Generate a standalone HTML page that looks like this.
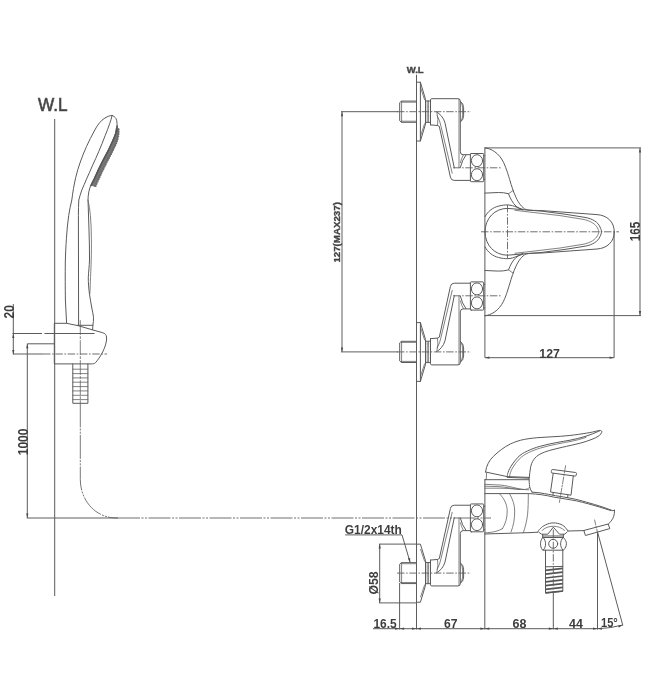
<!DOCTYPE html>
<html lang="en">
<head>
<meta charset="utf-8">
<title>Bath faucet dimension drawing</title>
<style>
html,body{margin:0;padding:0;background:#fff;}
body{width:645px;height:700px;overflow:hidden;}
svg{display:block;will-change:transform;transform:translateZ(0);}
text{font-family:"Liberation Sans",Arial,sans-serif;fill:#3e3e3e;font-weight:bold;}
.ln{fill:none;stroke:#5a5a5a;stroke-width:1;stroke-linecap:round;stroke-linejoin:round;}
.th{fill:none;stroke:#626262;stroke-width:0.8;stroke-linecap:round;stroke-linejoin:round;}
.dm{fill:none;stroke:#5c5c5c;stroke-width:1;}
.cl{fill:none;stroke:#606060;stroke-width:0.9;stroke-dasharray:7.5 1.6 1.6 1.6;}
.ar{fill:#4a4a4a;stroke:none;}
</style>
</head>
<body>
<svg width="645" height="700" viewBox="0 0 645 700">
<rect x="0" y="0" width="645" height="700" fill="#ffffff"/>
<defs>
<filter id="soft" x="0" y="0" width="645" height="700" filterUnits="userSpaceOnUse"><feGaussianBlur stdDeviation="0.42"/></filter>
<!-- eccentric wall connector; y=0 is the wall nipple axis, nut axis at y=+56 -->
<g id="conn">
  <!-- threaded nipple -->
  <path class="ln" d="M416.5,-10.6 L401.4,-10.6 L399.7,-9 L399.7,9 L401.4,10.6 L416.5,10.6"/>
  <path class="th" d="M401.4,-9.5 L416.5,-9.5 M401.4,9.5 L416.5,9.5"/>
  <line class="th" x1="401.6" y1="-10.4" x2="401.6" y2="10.4"/>
  <!-- flange -->
  <path class="ln" d="M416.5,-29.5 L420.4,-29.5 L425.5,-12.4 L425.5,12.4 L420.4,29.3 L416.5,29.3"/>
  <path class="th" d="M420.6,-24 L424.6,-12 M420.6,24 L424.6,12"/>
  <!-- neck -->
  <path class="ln" d="M425.6,-10.7 L430.5,-10.7 M425.6,10.7 L430.5,10.7"/>
  <line class="th" x1="427.2" y1="-10.7" x2="427.2" y2="10.7" stroke-dasharray="1.2 0.6"/>
  <line class="th" x1="428.6" y1="-10.7" x2="428.6" y2="10.7" stroke-dasharray="1.2 0.6"/>
  <!-- arm box -->
  <path class="ln" d="M430.5,13.2 L430.5,-11.8 Q430.5,-13 431.8,-13 L458,-13 Q460.3,-13 460.3,-10.5 L460.3,40 Q460.3,43 463.2,43 L470.4,43"/>
  <line class="th" x1="459" y1="-12.6" x2="459" y2="56"/>
  <path class="ln" d="M460.3,-10.4 Q463.6,-8.6 463.6,-4 L463.6,4 Q463.6,8.6 460.3,10.4"/>
  <path class="th" d="M461.4,-9 Q462.6,-6 462.6,-3 L462.6,3 Q462.6,6 461.4,9"/>
  <!-- slanting arm -->
  <path class="ln" d="M430.5,13.2 L437.5,13.8 L439.3,14.7 L450.4,65.4 Q451,68.7 454.2,68.7 L470.4,68.7"/>
  <path class="th" d="M437.2,4 Q440,9 441,14.7 L452.2,61.5"/>
  <path class="ln" d="M436.4,0.2 C440,2 443.6,6 445,11.2 L454.3,56.2"/>
  <path class="th" d="M437,1.4 Q438.6,8 437.5,13.8"/>
  <path class="ln" d="M466,43.2 Q462,48.5 460.3,55.8"/>
  <path class="th" d="M463.4,43.2 Q461.2,47 460.4,51"/>
  <!-- nut -->
  <rect class="ln" x="470.4" y="41.8" width="13.3" height="28.2" rx="0.8"/>
  <ellipse class="ln" cx="477" cy="49" rx="5.6" ry="6"/>
  <ellipse class="ln" cx="477" cy="63" rx="5.6" ry="6"/>
  <line class="th" x1="483.6" y1="44" x2="484.9" y2="44"/>
  <line class="th" x1="483.6" y1="67.5" x2="484.9" y2="67.5"/>
  <!-- centre lines -->
  <line class="cl" x1="397" y1="0" x2="471" y2="0"/>
</g>
<!-- upper half of plan view (mirrored about y=231.8) -->
<g id="half">
  <path class="ln" d="M484.9,147.9 C491,148.3 499,153 503.5,162.3 C507,170 508.5,176 509.7,179.7 C511.5,186 513.5,192 516,197.4 C518.5,203 522,207.6 526,209.6 C530,210.6 536,210.3 542,210.6 L597,214.6 C607,215.3 614.3,221.5 614.3,231.8"/>
  <path class="ln" d="M484.9,193.1 L498.6,192.5 Q504,192.5 508.5,193.7 C510,198 513,203.5 516,206.1 Q519,208.8 522.5,210"/>
  <path class="th" d="M508.5,193.7 L513.3,190.4"/>
  <path class="ln" d="M485,216.7 C488,211 493,207.5 498.6,206.1 C502,205.2 505,204.9 507.5,204.9 C511,205 514,206 517.2,207.4 L523.4,209.6"/>
  <path class="ln" d="M485,231.8 C485,218 495,208.4 507.5,208.4 L523.4,209.7 L542,211.2 L565,214.2 L585,217.4 C593,218.9 598,222.2 600,227 C601,229 601.5,230.5 601.5,231.8"/>
  <path class="th" d="M515,210.3 L560,215.6 L583,219.3 C591,220.9 595.5,224.2 597.5,228 C598.5,230 598.9,231 598.9,231.8"/>
  <line class="ln" x1="484.9" y1="147.9" x2="484.9" y2="231.8"/>
</g>
</defs>

<g filter="url(#soft)">
<!-- ================= LEFT : hand shower ================= -->
<g id="left-view">
<text x="38" y="111" font-size="17.8" textLength="29.6" lengthAdjust="spacingAndGlyphs" style="font-weight:normal" stroke="#555" stroke-width="0.7" fill="#555">W.L</text>
<line class="dm" x1="54.7" y1="119" x2="54.7" y2="596"/>
<!-- hand shower -->
<path class="ln" d="M112.1,115.5 C110.8,115.5 109.5,115.8 108.2,116.3 C106,117.2 104,118.5 102,120.2 C99,123 96.5,126.8 94.3,131 C91.5,136 89,141 86.5,146.5 C84.3,151.5 82.2,156.5 80.3,162 C78.5,167 77,172 75.7,177.5 C74,185 72.8,192 71.8,200 C70.6,205 69.5,210 68.7,215.5 C67.6,223 66.9,231 66.4,238.8 C65.9,246 65.5,254 65.3,262 C65.2,275 65.2,288 65.4,300 L66.6,323.2"/>
<path class="ln" d="M112.1,115.5 C111.5,118 110.8,120.5 109.8,123.3 C108.4,127.5 106.8,131.5 105.1,135.7 C103.2,141 101,146 98.9,151.2 C96.9,156 94.8,160.5 92.7,165.1 C90.6,170 88.5,174.5 86.5,179.1 C84.9,183 83.3,186.5 81.9,189.9 C80.6,193.5 79.6,196.8 78.8,200 C78.5,205 78.4,210 78.4,215.5 L78.6,325.4"/>
<path class="ln" d="M112.1,115.5 C113.8,116 115,117 116,118.6 C116.7,120 117,121.5 117,123.3 L117,125.5 C116.8,129 116.2,132 115,135 C114,137.5 113.3,139 112.5,141 L107.8,151 L103.5,159 L98.5,169 L94,179 C92.6,181.5 91.4,184 90.5,186 C89.8,188 89.2,190 88.8,192 C88.3,195 88,197.5 88,200 C88.2,210 88.8,220 89,230 C89.3,240 89.6,250 89.5,260 C89.3,266 88.6,272 88.3,277.2 C88.2,283 88.8,289 89.5,294.3 C90.2,299 91,303.5 91.8,308 C92.5,311.5 93.2,314.5 93.5,317.2 C93.6,320 93.3,322.8 92.9,325.2 L92.6,329.8"/>
<path class="th" d="M88,200 C89.2,205 90,210 90.4,215.5 C91,223 91.4,231 91.4,238.8 C91.5,246 91.4,254 91.2,260 C91,268 90.6,276 90.3,282.9 C90.2,287 90.1,291 89.8,294.3"/>
<path d="M117.2,128.4 C117.2,131 117,133.4 116.2,136.3 C115.5,138.6 115,140.1 114.3,142.1 L109.6,152.1 L105.3,160.1 L100.3,170.1 L95.8,180.1 C94.8,182.1 93.8,184.3 93.1,186.3" fill="none" stroke="#777" stroke-width="3.4"/>
<path d="M118.4,129.4 C118.5,132 118.4,134.4 117.8,137.2 C117.2,139.5 116.8,141 116.1,143 L111.4,153 L107.1,161 L102.1,171 L97.6,181 C96.6,183 95.6,185.2 94.9,187.2" fill="none" stroke="#6c6c6c" stroke-width="2.5" stroke-linecap="round" stroke-dasharray="0.01 2.35"/>
<path d="M117.3,125.5 C117.1,129 116.5,132 115.3,135 C114.3,137.5 113.6,139 112.8,141 L108.1,151 L103.8,159 L98.8,169 L94.3,179 C93,181.5 91.8,184 90.9,186" fill="none" stroke="#555" stroke-width="1.6"/>
<path class="ln" d="M77.5,325.3 L92.9,325.3" stroke-width="1.4"/>
<!-- holder -->
<path class="ln" d="M54.7,323.3 L66.6,323.3 L78.6,325.8 L92.3,329.8 L102.6,332.7 C105,333.4 106.4,334.8 106.5,337 C106.6,338.5 106.6,339.5 106.4,341 C106,343.8 105.2,346.2 104.2,348.6 C103.2,351 102.2,353 100.9,355.1 C99.5,357.6 97.8,360 95.5,362.7 C94.6,363.6 93.4,363.9 91.2,363.9 L54.7,363.9 Z"/>
<!-- hose nut -->
<path class="ln" d="M72.8,363.9 L72.8,403.3 L87.9,403.3 L87.9,363.9"/>
<path class="th" d="M72.8,369.2 H87.9 M72.8,373.6 H87.9 M72.8,377.9 H87.9 M72.8,382.2 H87.9 M72.8,386.6 H87.9 M72.8,390.9 H87.9 M72.8,395.3 H87.9 M72.8,399.6 H87.9" stroke-width="0.9"/>
<line class="th" x1="80.3" y1="320.6" x2="80.3" y2="403" stroke-dasharray="14 2 2 2"/>
<path d="M80.3,403.3 L80.3,479.4 C80.3,497 91,512 106,516.4 C110,517.6 113,518 118,518" fill="none" stroke="#5e5e5e" stroke-width="0.85" stroke-dasharray="24 1.2 2 1.2 2 1.2"/>
<!-- dims -->
<line class="dm" x1="12.5" y1="333.5" x2="94.6" y2="333.5" stroke-dasharray="29.5 2.5 60"/>
<line class="cl" x1="43" y1="354" x2="107" y2="354"/>
<line class="dm" x1="13" y1="354" x2="43" y2="354"/>
<line class="dm" x1="13.3" y1="304" x2="13.3" y2="354.4"/>
<line class="dm" x1="27.3" y1="343.8" x2="54.7" y2="343.8"/>
<line class="dm" x1="27.3" y1="343.8" x2="27.3" y2="518"/>
<line class="dm" x1="26.8" y1="518" x2="118" y2="518"/>
<path class="ar" d="M27.3,518 l-1.1,-4.5 h2.2z M27.3,343.8 l-1.1,4.5 h2.2z M13.3,333.4 l-1.1,4.5 h2.2z M13.3,354.4 l-1.1,-4.5 h2.2z"/>
<text transform="translate(14.3,318.5) rotate(-90)" font-size="14" textLength="13.4" lengthAdjust="spacingAndGlyphs">20</text>
<text transform="translate(27.6,455.2) rotate(-90)" font-size="14" textLength="26.6" lengthAdjust="spacingAndGlyphs">1000</text>
</g>

<!-- ================= RIGHT TOP : plan view ================= -->
<g id="top-view">
<text x="406.7" y="72.7" font-size="9.6" textLength="16.9" lengthAdjust="spacingAndGlyphs" stroke="#4f4f4f" stroke-width="0.45">W.L</text>
<line class="dm" x1="416.5" y1="74.7" x2="416.5" y2="629.5"/>
<use href="#conn" transform="translate(0,111.7)"/>
<use href="#conn" transform="translate(0,351.9) scale(1,-1)"/>
<line class="cl" x1="453" y1="167.8" x2="502" y2="167.8"/>
<line class="cl" x1="453" y1="295.8" x2="502" y2="295.8"/>
<line class="ln" x1="420.4" y1="82.2" x2="420.4" y2="141" />
<line class="ln" x1="420.4" y1="322.6" x2="420.4" y2="381.4"/>
<use href="#half"/>
<use href="#half" transform="translate(0,463.6) scale(1,-1)"/>
<line class="cl" x1="481" y1="231.8" x2="619" y2="231.8"/>
<line class="cl" x1="507.5" y1="204.9" x2="507.5" y2="258.4"/>
<!-- dimensions -->
<line class="dm" x1="341" y1="111.7" x2="398" y2="111.7"/>
<line class="dm" x1="341" y1="351.9" x2="398" y2="351.9"/>
<line class="dm" x1="342" y1="111.7" x2="342" y2="351.9"/>
<path class="ar" d="M342,111.7 l-1.1,4.5 h2.2z M342,351.9 l-1.1,-4.5 h2.2z"/>
<text transform="translate(340.3,262.6) rotate(-90)" font-size="9.8" textLength="60.5" lengthAdjust="spacingAndGlyphs" stroke="#4f4f4f" stroke-width="0.35">127(MAX237)</text>
<line class="dm" x1="484.9" y1="147.9" x2="641" y2="147.9"/>
<line class="dm" x1="484.9" y1="315.6" x2="641" y2="315.6"/>
<line class="dm" x1="640" y1="147.9" x2="640" y2="315.6"/>
<path class="ar" d="M640,147.9 l-1.1,4.5 h2.2z M640,315.6 l-1.1,-4.5 h2.2z"/>
<text transform="translate(640.4,241.2) rotate(-90)" font-size="14" textLength="19.5" lengthAdjust="spacingAndGlyphs">165</text>
<line class="dm" x1="484.9" y1="315.6" x2="484.9" y2="357.7"/>
<line class="dm" x1="614.1" y1="231.8" x2="614.1" y2="357.7"/>
<line class="dm" x1="484.9" y1="357.7" x2="614.1" y2="357.7"/>
<path class="ar" d="M484.9,357.7 l4.5,-1.1 v2.2z M614.1,357.7 l-4.5,-1.1 v2.2z"/>
<text x="539.3" y="357.5" font-size="13.3" textLength="20.5" lengthAdjust="spacingAndGlyphs">127</text>
</g>

<!-- ================= RIGHT BOTTOM : side view ================= -->
<g id="side-view">
<!-- wall connector (same part, flipped) -->
<use href="#conn" transform="translate(0,573.1) scale(1,-0.988)"/>
<!-- handle -->
<path class="ln" d="M485.5,472 C486.3,466 489,460.5 493.3,456.4 C498,452 504,447 510.3,444 C515,441.8 519,440.5 524.3,439.4 C531,438.2 536,437.8 540,437.5 L560.2,436.3 C567,435.8 573,435.2 578.8,434.3 C585,433.4 589,432.8 592.7,432 C596,431.2 598,430.6 599.7,430.4 C601.3,430.3 602.2,431.4 601.7,432.4 C601.2,433.6 600.4,434.6 599.4,435.5 C597,437.2 594.8,438.3 592,439.3 C588,440.9 584.5,442 580.8,443 C574,444.7 568,446 562.2,447.3 C558,448.3 554,449.2 549.8,450.4 C546,451.5 543,452.6 539.9,454.2 C537.3,455.6 535.3,457.4 533.7,459.7 C532,462 531.2,464.5 530.6,467.2 C530,471 529.6,474 529.3,477.4"/>
<path class="ln" d="M507.2,476.6 C507.4,475 507.6,473.8 508,472.7 C509,469.5 510.3,467.3 511.9,465 C513.8,462 515.8,459.5 518,457.2 C520.5,454.7 523.5,452.7 527.4,451 C531,449.3 535,447.7 539.8,446.4 C545,444.9 551,443.6 556.8,442.5 C561,441.7 566,440.9 570,440.2 C575,439.3 580,438 585,436.5 C590,435 595,433 599.7,430.8"/>
<path class="th" d="M509.5,476.6 C509.8,474 510.8,471 512.5,468 C514.5,464.6 516.8,461.6 519.3,459 C522,456.3 525,454.3 528.6,452.6 C532,451 536,449.3 540.6,448 C546,446.4 552,445 557.6,443.9 C562,443 567,442.1 571,441.4 C576,440.4 581,439 586,437.4"/>
<path class="ln" d="M485.5,472 L507.2,476.6 L529,477.4"/>
<path class="ln" d="M507.2,477.4 L529,478.2" stroke-width="1.3"/>
<path class="th" d="M486.6,473 L486.2,479.7"/>
<!-- collar / body top -->
<path class="ln" d="M484.9,479.7 L529,479.7"/>
<path class="ln" d="M529,477.4 C529.1,481 529.3,484 529.7,486.7 C530.2,489 531,490.8 532,492.1"/>
<path class="th" d="M484.9,484.3 L501,485.1 C506,485.5 511,487 516.5,488.2 C521,489.2 525,489.8 528.9,489.8"/>
<path class="th" d="M484.9,488.2 L501,488.2 C509,488.2 517,489.6 524.3,489.5 C526.5,489.4 528.5,488.6 529.7,487.4"/>
<path class="th" d="M484.9,486.2 L498,486.6 C506,487 512,488.6 520,489.5"/>
<path class="ln" d="M484.9,493.6 L528.9,493.6 C538,494 546,495.2 553.3,497 C562,498.5 570,499.6 576.5,500.9 C585,502.8 592,504.8 599.8,507.1 L611,510.6"/>
<path class="ln" d="M532,492.1 L540,492.9 C546,493.8 551,494.8 555.5,495.7 C561,496.6 566,497.3 571,498.3 C577,499.5 582,500.9 586.5,502.2 C592,503.7 597,505.2 602,506.8 L612.9,510.7 L614.5,510.2"/>
<!-- spout tip & aerator -->
<path class="ln" d="M614.5,510.2 C614.6,512.5 614.3,514.5 613.7,516.4 C612.8,519 611.2,521.3 609,523.3 L608.3,524.4"/>
<path class="ln" d="M584.2,530.4 L608.2,524 L609.8,528.6 L585.8,535.4 Z"/>
<path class="ln" d="M568,531 L584.3,530.6"/>
<line class="th" x1="594.6" y1="520" x2="597.6" y2="533" stroke-dasharray="5 1.5 1.5 1.5"/>
<!-- body -->
<line class="ln" x1="484.9" y1="479.7" x2="484.9" y2="534"/>
<path class="ln" d="M484.9,534 L530,532.6 L537.8,532.2"/>
<path class="ln" d="M537.8,532.2 C538.3,530.8 539,529.8 540.1,528.8 C541.8,527 543.5,525.8 545.5,524.9 C548,523.7 550.5,522.9 553.3,522.9 C556,522.9 558.7,523.5 561,524.4 C563.2,525.4 565,526.8 566.4,528.8 C567.1,529.6 567.6,530.3 568,531.1"/>
<path class="ln" d="M539.3,532.6 L541.6,534.2 L547.8,534.2 L553.3,527.2 L559.5,534.2 L564.9,534.2 L567.2,531.9"/>
<path class="th" d="M542,530.5 C545,527.5 549,526.3 553.3,526.3 C557.6,526.3 561.5,527.5 564.6,530.5"/>
<path class="ln" d="M542.7,534.3 L542.7,537.5 M563.4,534.3 L563.4,537.5 M542.7,536 L563.4,536"/>
<!-- interior arcs -->
<path class="th" d="M499.8,494 C504.5,499 507.2,505 507.2,511 C507.2,518 505.5,524 502.3,529"/>
<path class="th" d="M509.7,494 C513,500 514.7,505 514.7,511 C514.7,519 513.5,526 511,532"/>
<path class="th" d="M528.3,493.6 C528.3,501 528.2,508 527.6,514.2 C526.8,521 525.3,527 523.3,532.8"/>
<path class="th" d="M484.9,532.8 C489,532.6 492,532.3 494.8,531.6 C498,530.8 500.5,529.8 502.3,528.6"/>
<!-- diverter nut, shaft and threaded outlet -->
<path class="ln" d="M542.7,537.5 L563.4,537.5 C565.5,540 566.4,541.5 566.4,543.8 C566.4,546 565.5,548 563.4,550.2 L542.7,550.2 C541,548 540.5,546 540.5,543.8 C540.5,541.5 541,540 542.7,537.5 Z"/>
<circle class="ln" cx="553.2" cy="543.8" r="4.5"/>
<path class="ln" d="M543.4,537.8 C546.4,541.5 546.4,546.3 543.4,550 M562.8,537.8 C559.8,541.5 559.8,546.3 562.8,550"/>
<path class="ln" d="M545.5,550.2 L545.5,593 L562.8,591.4 L562.8,550.2"/>
<path class="ln" d="M545.5,566.8 L562.8,566.4"/>
<path d="M545.5,570.4 L562.8,568.4 M545.5,574.2 L562.8,572.2 M545.5,578 L562.8,576 M545.5,581.8 L562.8,579.8 M545.5,585.6 L562.8,583.6 M545.5,589.4 L562.8,587.4 M545.5,592.8 L562.8,591" fill="none" stroke="#555" stroke-width="1.7"/>
<line class="cl" x1="553.3" y1="529.5" x2="553.3" y2="592"/>
<line class="dm" x1="553.3" y1="592" x2="553.3" y2="629.5"/>
<!-- diverter knob -->
<path class="ln" d="M551.6,470.2 Q551.7,469.3 552.7,469.5 L575.6,472.5 Q576.6,472.7 576.5,473.6 L576.1,475.3 Q575.9,476.2 575,476.1 L552,473 Q551,472.9 551.2,472 Z"/>
<path class="ln" d="M553.2,473.4 L550.5,492 L571,495.2 L573.3,476"/>
<path class="ln" d="M553.2,492.5 L553,495.2 M567.9,494.8 L567.7,497.6"/>
<line class="th" x1="565.6" y1="465.7" x2="559.4" y2="502.4" stroke-dasharray="7 1.5 1.5 1.5"/>
<!-- 15 degree -->
<line class="dm" x1="597.5" y1="531.9" x2="597.5" y2="629.5"/>
<line class="dm" x1="597.5" y1="531.9" x2="622.8" y2="625.4"/>
<path class="dm" d="M597.5,628.7 Q610,628.4 622.8,625"/>
<!-- G1/2 / dia 58 -->
<text x="344.8" y="533.5" font-size="13.3" textLength="57" lengthAdjust="spacingAndGlyphs">G1/2x14th</text>
<path class="dm" d="M345.2,534.9 L402,534.9 L410,562"/>
<path class="ar" d="M410.2,562.8 l-2.3,-4.2 l2.2,-0.6z"/>
<line class="dm" x1="379" y1="544.1" x2="416.5" y2="544.1"/>
<line class="dm" x1="379" y1="602.9" x2="416.5" y2="602.9"/>
<line class="dm" x1="379.7" y1="544.1" x2="379.7" y2="602.9"/>
<path class="ar" d="M379.7,544.1 l-1.1,4.5 h2.2z M379.7,602.9 l-1.1,-4.5 h2.2z"/>
<text transform="translate(377.9,594.5) rotate(-90)" font-size="12.8" textLength="23.2" lengthAdjust="spacingAndGlyphs">Ø58</text>
<!-- bottom chain dimension -->
<line class="dm" x1="399.6" y1="583" x2="399.6" y2="629.5"/>
<line class="dm" x1="484.8" y1="534" x2="484.8" y2="629.5"/>
<line class="dm" x1="373" y1="628.7" x2="598" y2="628.7"/>
<path class="ar" d="M399.6,628.7 l-4.5,-1.1 v2.2z M416.5,628.7 l4.5,-1.1 v2.2z M416.5,628.7 l-4.5,-1.1 v2.2z M399.6,628.7 l4.5,-1.1 v2.2z M484.8,628.7 l-4.5,-1.1 v2.2z M484.8,628.7 l4.5,-1.1 v2.2z M553.3,628.7 l-4.5,-1.1 v2.2z M553.3,628.7 l4.5,-1.1 v2.2z M597.5,628.7 l-4.5,-1.1 v2.2z M597.5,628.7 l4.5,-1.1 v2.2z M622.8,625.2 l-4.6,0.2 l0.6,2.1z"/>
<text x="373.4" y="628.3" font-size="13.3" textLength="23.2" lengthAdjust="spacingAndGlyphs">16.5</text>
<text x="443.9" y="628.3" font-size="13.3" textLength="13.5" lengthAdjust="spacingAndGlyphs">67</text>
<text x="512.5" y="628.3" font-size="13.3" textLength="13.9" lengthAdjust="spacingAndGlyphs">68</text>
<text x="569" y="628.3" font-size="13.3" textLength="13.8" lengthAdjust="spacingAndGlyphs">44</text>
<text x="601" y="627" font-size="13.3" textLength="16.8" lengthAdjust="spacingAndGlyphs">15°</text>
<!-- hose axis to hand shower -->
<line x1="118" y1="518" x2="491" y2="518" fill="none" stroke="#606060" stroke-width="0.9" stroke-dasharray="22 1.5 2 1.5 2 1.5"/>
</g>
</g>
</svg>
</body>
</html>
